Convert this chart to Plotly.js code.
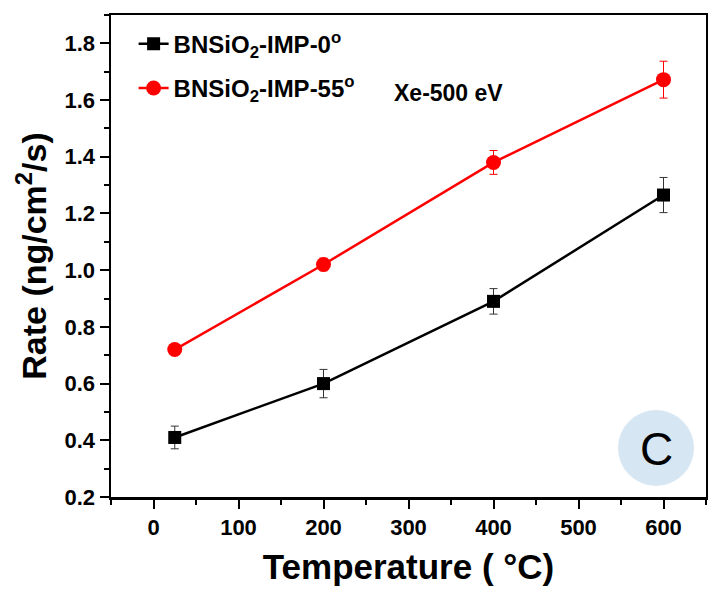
<!DOCTYPE html>
<html>
<head>
<meta charset="utf-8">
<script src="https://cdn.plot.ly/plotly-3.0.1.min.js"></script>
<style>html,body{margin:0;padding:0;background:#fff;}#chart{width:708px;height:589px;}</style>
</head>
<body>
<div id="chart"></div>
<script>
var temperature = [25, 200, 400, 600];
var rate0 = [0.41, 0.60, 0.89, 1.265];
var err0 = [0.04, 0.05, 0.045, 0.062];
var rate55 = [0.72, 1.02, 1.38, 1.672];
var err55 = [0.012, 0.022, 0.042, 0.065];
var seriesNames = ["BNSiO<sub>2</sub>-IMP-0<sup>o</sup>", "BNSiO<sub>2</sub>-IMP-55<sup>o</sup>"];
var xTicks = [0, 100, 200, 300, 400, 500, 600];
var yTicks = [0.2, 0.4, 0.6, 0.8, 1.0, 1.2, 1.4, 1.6, 1.8];

var font = "Arial, 'Liberation Sans', sans-serif";

var traces = [
  {
    x: temperature, y: rate0, name: seriesNames[0], legendgroup: 'g0', type: 'scatter', mode: 'lines+markers',
    line: {color: '#000000', width: 2.5},
    marker: {symbol: 'square', size: 13, color: '#000000'},
    error_y: {type: 'data', array: err0, visible: true, color: '#333333', thickness: 1, width: 4}
  },
  {
    x: temperature, y: rate55, name: seriesNames[1], legendgroup: 'g1', type: 'scatter', mode: 'lines+markers',
    line: {color: '#ff0000', width: 2.5},
    marker: {symbol: 'circle', size: 15, color: '#ff0000'},
    error_y: {type: 'data', array: err55, visible: true, color: '#ff0000', thickness: 1, width: 4}
  }
];

var layout = {
  width: 708, height: 589,
  margin: {l: 111, r: 2, t: 15, b: 92},
  paper_bgcolor: '#ffffff', plot_bgcolor: '#ffffff',
  showlegend: true,
  legend: {
    x: 0.038, y: 0.986, xanchor: 'left', yanchor: 'top',
    bgcolor: 'rgba(0,0,0,0)', borderwidth: 0,
    font: {family: font, size: 24, color: '#000', weight: 'bold'},
    traceorder: 'grouped', tracegroupgap: 10
  },
  xaxis: {
    range: [-50, 650],
    tickvals: xTicks, ticktext: xTicks.map(String),
    ticks: 'outside', ticklen: 9, tickwidth: 2, tickcolor: '#000',
    minor: {dtick: 50, ticks: 'outside', ticklen: 5, tickwidth: 2, tickcolor: '#000'},
    showline: true, linecolor: '#000', linewidth: 2.5, mirror: true,
    showgrid: false, zeroline: false,
    tickfont: {family: font, size: 22, color: '#000', weight: 'bold'},
    title: {text: 'Temperature ( °C)', font: {family: font, size: 35, color: '#000', weight: 'bold'}, standoff: 16}
  },
  yaxis: {
    range: [0.2, 1.9],
    tickvals: yTicks, ticktext: yTicks.map(function(v){return v.toFixed(1);}),
    ticks: 'outside', ticklen: 9, tickwidth: 2, tickcolor: '#000',
    minor: {dtick: 0.1, ticks: 'outside', ticklen: 5, tickwidth: 2, tickcolor: '#000'},
    showline: true, linecolor: '#000', linewidth: 2.5, mirror: true,
    showgrid: false, zeroline: false,
    tickfont: {family: font, size: 22, color: '#000', weight: 'bold'},
    title: {text: 'Rate (ng/cm<sup>2</sup>/s)', font: {family: font, size: 34, color: '#000', weight: 'bold'}, standoff: 8}
  },
  shapes: [
    {type: 'circle', xref: 'paper', yref: 'paper', xsizemode: 'pixel', ysizemode: 'pixel',
     xanchor: (656 - 111) / 595, yanchor: (589 - 92 - 448) / 482,
     x0: -38, x1: 38, y0: -38, y1: 38,
     fillcolor: '#d6e6f3', line: {width: 0}, layer: 'below'}
  ],
  annotations: [
    {text: 'Xe-500 eV', xref: 'paper', yref: 'paper', x: (392 - 111) / 595, y: (589 - 92 - 93) / 482,
     xanchor: 'left', yanchor: 'middle', showarrow: false,
     font: {family: font, size: 23, color: '#000', weight: 'bold'}},
    {text: 'C', xref: 'paper', yref: 'paper', x: (656 - 111) / 595, y: (589 - 92 - 449) / 482,
     xanchor: 'center', yanchor: 'middle', showarrow: false,
     font: {family: font, size: 46, color: '#000'}}
  ]
};

Plotly.newPlot('chart', traces, layout, {displayModeBar: false, staticPlot: true});
</script>
</body>
</html>
